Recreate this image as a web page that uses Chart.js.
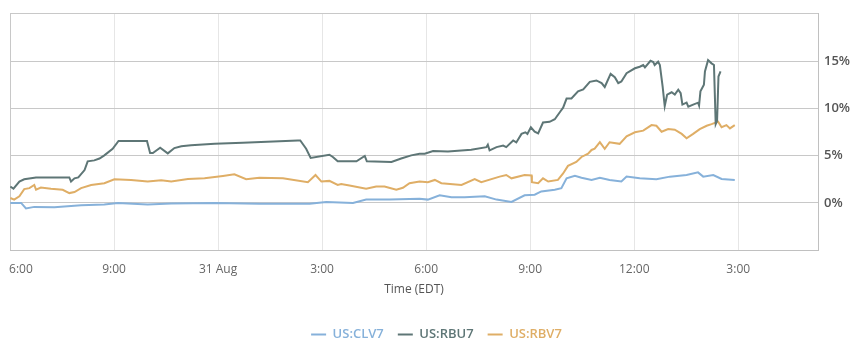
<!DOCTYPE html>
<html>
<head>
<meta charset="utf-8">
<script src="https://cdn.jsdelivr.net/npm/chart.js@4.4.1/dist/chart.umd.min.js"></script>
<style>
html,body{margin:0;padding:0;background:#fff;}
#wrap{width:863px;height:355px;}
</style>
</head>
<body>
<div id="wrap"><canvas id="c" width="863" height="355"></canvas></div>
<script>
// Hours after 6:00 PM (30 Aug)
const tickLabels = ['6:00', '9:00', '31 Aug', '3:00', '6:00', '9:00', '12:00', '3:00'];
const seriesNames = ['US:CLV7', 'US:RBU7', 'US:RBV7'];

const timesCLV = [0.01,0.32,0.46,0.70,1.28,2.05,2.72,3.11,3.97,4.65,5.90,7.19,8.64,9.12,9.89,10.27,10.95,11.81,12.05,12.39,12.73,13.11,13.69,14.03,14.46,14.84,15.13,15.32,15.71,15.90,16.05,16.29,16.48,16.77,17.01,17.29,17.63,17.78,18.16,18.64,19.03,19.51,19.84,19.99,20.28,20.52,20.90];
const valuesCLV = [0.00,0.00,-0.59,-0.42,-0.45,-0.24,-0.17,0.00,-0.17,-0.07,0.00,-0.10,-0.10,0.10,0.00,0.35,0.35,0.45,0.35,0.80,0.59,0.59,0.70,0.35,0.10,0.80,0.87,1.22,1.39,1.56,2.60,2.88,2.67,2.43,2.67,2.43,2.26,2.78,2.60,2.50,2.78,2.95,3.23,2.78,2.95,2.53,2.43];

const timesRBU = [0.01,0.10,0.27,0.41,0.75,1.71,1.76,1.86,1.97,2.15,2.24,2.43,2.58,2.72,2.96,3.13,3.95,4.04,4.12,4.33,4.55,4.74,4.94,5.22,5.90,6.71,8.30,8.37,8.54,8.67,9.21,9.31,9.45,9.99,10.23,10.29,11.00,11.28,11.57,11.81,11.96,12.20,12.63,13.30,13.74,13.78,13.83,14.03,14.22,14.31,14.51,14.60,14.75,14.86,14.92,15.02,15.13,15.23,15.37,15.56,15.71,15.88,15.95,16.05,16.19,16.38,16.53,16.72,16.91,17.06,17.15,17.32,17.44,17.54,17.63,17.78,18.02,18.16,18.26,18.31,18.47,18.55,18.59,18.69,18.74,18.82,18.88,18.95,19.08,19.17,19.27,19.34,19.39,19.51,19.56,19.70,19.84,19.87,19.91,20.01,20.04,20.13,20.23,20.30,20.35,20.39,20.43,20.49];
const valuesRBU = [1.74,1.50,2.26,2.50,2.70,2.70,2.26,2.60,2.70,3.47,4.40,4.50,4.70,5.03,5.73,6.56,6.56,5.28,5.28,5.83,5.24,5.80,6.00,6.10,6.25,6.35,6.60,6.60,5.73,4.76,5.10,4.86,4.40,4.40,4.97,4.40,4.34,4.69,5.03,5.20,5.20,5.49,5.45,5.63,5.90,6.15,5.55,5.90,6.07,5.90,6.60,6.40,7.30,7.47,7.30,8.00,7.53,7.36,8.50,8.58,8.85,9.72,10.07,11.04,11.04,11.80,12.00,12.80,12.95,12.67,12.26,13.65,13.30,12.67,12.85,13.72,14.24,14.40,14.58,14.34,15.03,14.90,14.58,14.93,14.58,12.30,10.24,11.46,11.70,11.46,11.98,11.60,10.40,10.60,10.17,10.40,10.60,10.30,11.80,12.50,13.90,15.10,14.76,14.58,8.33,8.68,13.37,13.90];

const timesRBV = [0.01,0.12,0.27,0.41,0.56,0.70,0.75,0.89,1.18,1.52,1.71,1.86,2.05,2.34,2.72,3.01,3.49,3.97,4.36,4.65,5.13,5.61,6.14,6.47,6.81,7.19,7.87,8.59,8.81,8.98,9.21,9.45,9.55,9.79,10.27,10.56,10.80,11.14,11.33,11.52,11.81,12.05,12.25,12.44,13.02,13.40,13.59,14.12,14.31,14.46,14.84,15.04,15.05,15.23,15.37,15.52,15.80,15.95,16.09,16.33,16.48,16.67,16.77,16.86,17.01,17.15,17.29,17.58,17.78,18.02,18.26,18.50,18.64,18.79,18.98,19.17,19.37,19.51,19.70,19.89,20.09,20.23,20.42,20.52,20.66,20.76,20.90];
const valuesRBV = [0.52,0.35,0.70,1.46,1.56,1.90,1.40,1.63,1.49,1.39,1.04,1.15,1.56,1.90,2.08,2.50,2.43,2.26,2.40,2.26,2.53,2.60,2.85,3.02,2.50,2.67,2.60,2.19,2.95,2.26,2.33,1.90,2.00,1.84,1.49,1.74,1.74,1.39,1.60,2.08,2.26,2.19,2.43,2.08,1.90,2.53,2.19,2.78,2.95,2.60,2.95,2.90,2.19,2.08,2.60,2.26,2.43,3.12,3.92,4.34,4.86,5.20,5.60,5.73,6.42,5.73,6.42,6.25,7.05,7.47,7.64,8.23,8.16,7.53,7.81,7.75,7.30,6.84,7.30,7.81,8.16,8.33,8.58,8.00,8.23,7.88,8.23];

const colors = ['#86b1da', '#5e7676', '#dfae66'];

function pts(t, v) { return t.map((x, i) => ({ x: x, y: v[i] })); }

const FONT = "'Open Sans', 'Noto Sans', sans-serif";

new Chart(document.getElementById('c'), {
  type: 'line',
  data: {
    datasets: [
      { label: seriesNames[0], data: pts(timesCLV, valuesCLV), borderColor: colors[0], backgroundColor: colors[0] },
      { label: seriesNames[1], data: pts(timesRBU, valuesRBU), borderColor: colors[1], backgroundColor: colors[1] },
      { label: seriesNames[2], data: pts(timesRBV, valuesRBV), borderColor: colors[2], backgroundColor: colors[2] }
    ]
  },
  options: {
    responsive: false,
    animation: false,
    elements: {
      point: { radius: 0 },
      line: { borderWidth: 2, tension: 0 }
    },
    layout: { padding: { left: 10, right: 0, top: 12, bottom: 4 } },
    plugins: {
      tooltip: { enabled: false },
      legend: {
        position: 'bottom',
        labels: {
          usePointStyle: true,
          pointStyle: 'line',
          pointStyleWidth: 15,
          boxWidth: 15,
          boxHeight: 12,
          padding: 14,
          font: { family: FONT, size: 13, weight: '600' },
          generateLabels: function (chart) {
            return chart.data.datasets.map((ds, i) => ({
              text: ds.label,
              fillStyle: colors[i],
              strokeStyle: colors[i],
              fontColor: colors[i],
              lineWidth: 2,
              pointStyle: 'line',
              hidden: false,
              datasetIndex: i
            }));
          }
        }
      }
    },
    scales: {
      x: {
        type: 'linear',
        min: 0,
        max: 23.3,
        afterBuildTicks: function (scale) {
          scale.ticks = scale.ticks.filter(t => Math.abs(t.value / 3 - Math.round(t.value / 3)) < 1e-6);
        },
        afterFit: function (scale) { scale.paddingLeft = 0; scale.paddingRight = 0; },
        ticks: {
          stepSize: 3,
          autoSkip: false,
          maxRotation: 0,
          padding: 12,
          color: '#666',
          font: { family: FONT, size: 12 },
          callback: function (value, index) {
            const k = Math.round(value / 3);
            const lab = tickLabels[k];
            if (lab === undefined) return '';
            return k === 0 ? '\u00A0\u00A0\u00A0\u00A0\u00A0\u00A0\u00A0' + lab : lab;
          }
        },
        grid: {
          drawTicks: false,
          color: function (ctx) { return ctx.index === 0 ? '#c8c8c8' : '#e6e6e6'; },
          lineWidth: 1
        },
        border: { display: true, color: '#c0c0c0' },
        title: {
          display: true,
          text: 'Time (EDT)',
          color: '#555',
          font: { family: FONT, size: 12 },
          padding: { top: -6, bottom: 17 }
        }
      },
      y: {
        position: 'right',
        min: -5,
        max: 20,
        afterFit: function (scale) { scale.width = 45; },
        ticks: {
          stepSize: 5,
          padding: 6,
          color: '#555',
          font: { family: FONT, size: 13, weight: '600' },
          callback: function (value) {
            if (value <= -5 || value >= 20) return '';
            return value + '%';
          }
        },
        grid: { drawTicks: false, color: '#c8c8c8', lineWidth: 1 },
        border: { display: true, color: '#c0c0c0' }
      }
    }
  }
});
</script>
</body>
</html>
